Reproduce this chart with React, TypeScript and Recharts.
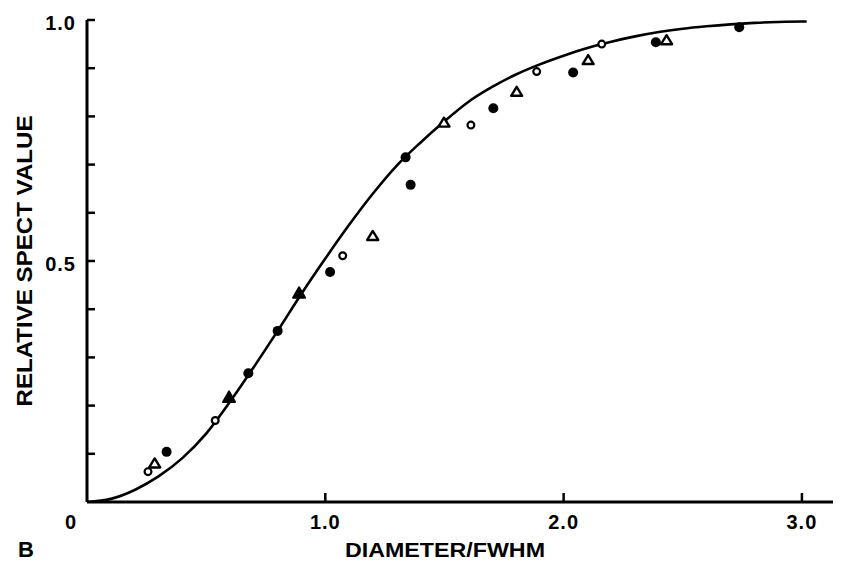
import React from 'react';
import { ComposedChart, Line, Scatter, XAxis, YAxis } from 'recharts';

// Fitted curve
const curveX = [0, 0.1, 0.2, 0.3, 0.4, 0.5, 0.6, 0.7, 0.8, 0.9, 1.0, 1.1, 1.2, 1.3, 1.4, 1.5, 1.6, 1.7, 1.8, 1.9, 2.0, 2.1, 2.2, 2.3, 2.4, 2.5, 2.6, 2.7, 2.8, 2.9, 3.0, 3.02];
const curveY = [0, 0.0065, 0.025, 0.053, 0.091, 0.142, 0.208, 0.28, 0.355, 0.432, 0.505, 0.575, 0.64, 0.698, 0.746, 0.79, 0.83, 0.861, 0.887, 0.908, 0.926, 0.942, 0.955, 0.966, 0.975, 0.982, 0.987, 0.991, 0.994, 0.996, 0.997, 0.997];

// Filled circles
const filledCircleX = [0.334, 0.677, 0.8, 1.02, 1.337, 1.358, 1.705, 2.04, 2.387, 2.737];
const filledCircleY = [0.104, 0.267, 0.355, 0.477, 0.715, 0.658, 0.817, 0.891, 0.954, 0.985];

// Open circles
const openCircleX = [0.256, 0.538, 1.073, 1.611, 1.887, 2.16];
const openCircleY = [0.063, 0.169, 0.511, 0.782, 0.893, 0.95];

// Open triangles
const triangleX = [0.284, 1.199, 1.498, 1.803, 2.103, 2.432];
const triangleY = [0.08, 0.552, 0.787, 0.851, 0.917, 0.958];

// Filled triangles (triangle over filled dot on the curve)
const filledTriangleX = [0.596, 0.89];
const filledTriangleY = [0.217, 0.433];

const xTicks = [0, 1, 2, 3];
const xTickLabels = ['0', '1.0', '2.0', '3.0'];
const yTicks = [0, 0.1, 0.2, 0.3, 0.4, 0.5, 0.6, 0.7, 0.8, 0.9, 1.0];
const yTickLabels = ['', '', '', '', '', '0.5', '', '', '', '', '1.0'];

const xTitle = 'DIAMETER/FWHM';
const yTitle = 'RELATIVE SPECT VALUE';
const panelLetter = 'B';

const zip = (xs: number[], ys: number[]) => xs.map((x, i) => ({ x, y: ys[i] }));
const curveData = zip(curveX, curveY);
const filledCircleData = zip(filledCircleX, filledCircleY);
const openCircleData = zip(openCircleX, openCircleY);
const triangleData = zip(triangleX, triangleY);
const filledTriangleData = zip(filledTriangleX, filledTriangleY);

const FONT = '"Liberation Sans", Arial, sans-serif';

const XTick = (props: any) => {
  const { x, y, payload } = props;
  const idx = xTicks.indexOf(payload.value);
  const label = xTickLabels[idx] ?? '';
  const isOrigin = payload.value === 0;
  return (
    <g>
      {!isOrigin && <line x1={x} y1={y} x2={x} y2={y - 9} stroke="#000" strokeWidth={2.5} />}
      <text x={isOrigin ? x - 16 : x} y={y + 27} textAnchor="middle" fontFamily={FONT} fontWeight={700} fontSize={20} letterSpacing={1} fill="#000">
        {label}
      </text>
    </g>
  );
};

const YTick = (props: any) => {
  const { x, y, payload } = props;
  const idx = yTicks.findIndex((t) => Math.abs(t - payload.value) < 1e-6);
  const label = idx >= 0 ? yTickLabels[idx] : '';
  const isOrigin = payload.value === 0;
  return (
    <g>
      {!isOrigin && <line x1={x} y1={y} x2={x + 8} y2={y} stroke="#000" strokeWidth={2.5} />}
      {label && (
        <text x={x - 11} y={y + 10} textAnchor="end" fontFamily={FONT} fontWeight={700} fontSize={20} letterSpacing={1} fill="#000">
          {label}
        </text>
      )}
    </g>
  );
};

const FilledDot = (p: any) => <circle cx={p.cx} cy={p.cy} r={5} fill="#000" />;
const OpenDot = (p: any) => <circle cx={p.cx} cy={p.cy} r={3.4} fill="#fff" stroke="#000" strokeWidth={2.2} />;
const OpenTri = (p: any) => (
  <path
    d={`M${p.cx},${p.cy - 5} L${p.cx + 5.5},${p.cy + 4} L${p.cx - 5.5},${p.cy + 4} Z`}
    fill="#fff"
    stroke="#000"
    strokeWidth={2.4}
    strokeLinejoin="round"
  />
);
const FilledTri = (p: any) => (
  <path
    d={`M${p.cx},${p.cy - 6} L${p.cx + 6},${p.cy + 4.5} L${p.cx - 6},${p.cy + 4.5} Z`}
    fill="#000"
    stroke="#000"
    strokeWidth={2}
    strokeLinejoin="round"
  />
);

export default function App() {
  const W = 833;
  const H = 554;
  return (
    <div style={{ position: 'relative', width: W, height: H, background: '#fff' }}>
      <ComposedChart width={W} height={H} margin={{ top: 12, right: 0, bottom: 0, left: 0 }}>
        <XAxis
          dataKey="x"
          type="number"
          domain={[0, 3.164]}
          ticks={xTicks}
          interval={0}
          height={60}
          tickSize={0}
          tickMargin={0}
          tickLine={false}
          axisLine={{ stroke: '#000', strokeWidth: 3 }}
          tick={(p: any) => <XTick {...p} />}
          allowDataOverflow
        />
        <YAxis
          type="number"
          domain={[0, 1]}
          ticks={yTicks}
          interval={0}
          width={79}
          tickSize={0}
          tickMargin={0}
          tickLine={false}
          axisLine={{ stroke: '#000', strokeWidth: 3 }}
          tick={(p: any) => <YTick {...p} />}
          allowDataOverflow
        />
        <Line
          data={curveData}
          dataKey="y"
          type="monotone"
          stroke="#000"
          strokeWidth={2.6}
          dot={false}
          activeDot={false}
          isAnimationActive={false}
        />
        <Scatter data={openCircleData} dataKey="y" shape={OpenDot} isAnimationActive={false} />
        <Scatter data={triangleData} dataKey="y" shape={OpenTri} isAnimationActive={false} />
        <Scatter data={filledTriangleData} dataKey="y" shape={FilledTri} isAnimationActive={false} />
        <Scatter data={filledCircleData} dataKey="y" shape={FilledDot} isAnimationActive={false} />
      </ComposedChart>
      <svg width={W} height={H} style={{ position: 'absolute', left: 0, top: 0, pointerEvents: 'none', overflow: 'visible' }}>
        <text
          transform="translate(24,253) rotate(-90)"
          x={0}
          y={0}
          textAnchor="middle"
          fontFamily={FONT}
          fontWeight={700}
          fontSize={22}
          textLength={291}
          lengthAdjust="spacingAndGlyphs"
          fill="#000"
        >
          {yTitle}
        </text>
        <text x={337} y={549} fontFamily={FONT} fontWeight={700} fontSize={21} textLength={200} lengthAdjust="spacingAndGlyphs" fill="#000">
          {xTitle}
        </text>
        <text x={10} y={549} fontFamily={FONT} fontWeight={900} fontSize={22} fill="#000">
          {panelLetter}
        </text>
      </svg>
    </div>
  );
}
